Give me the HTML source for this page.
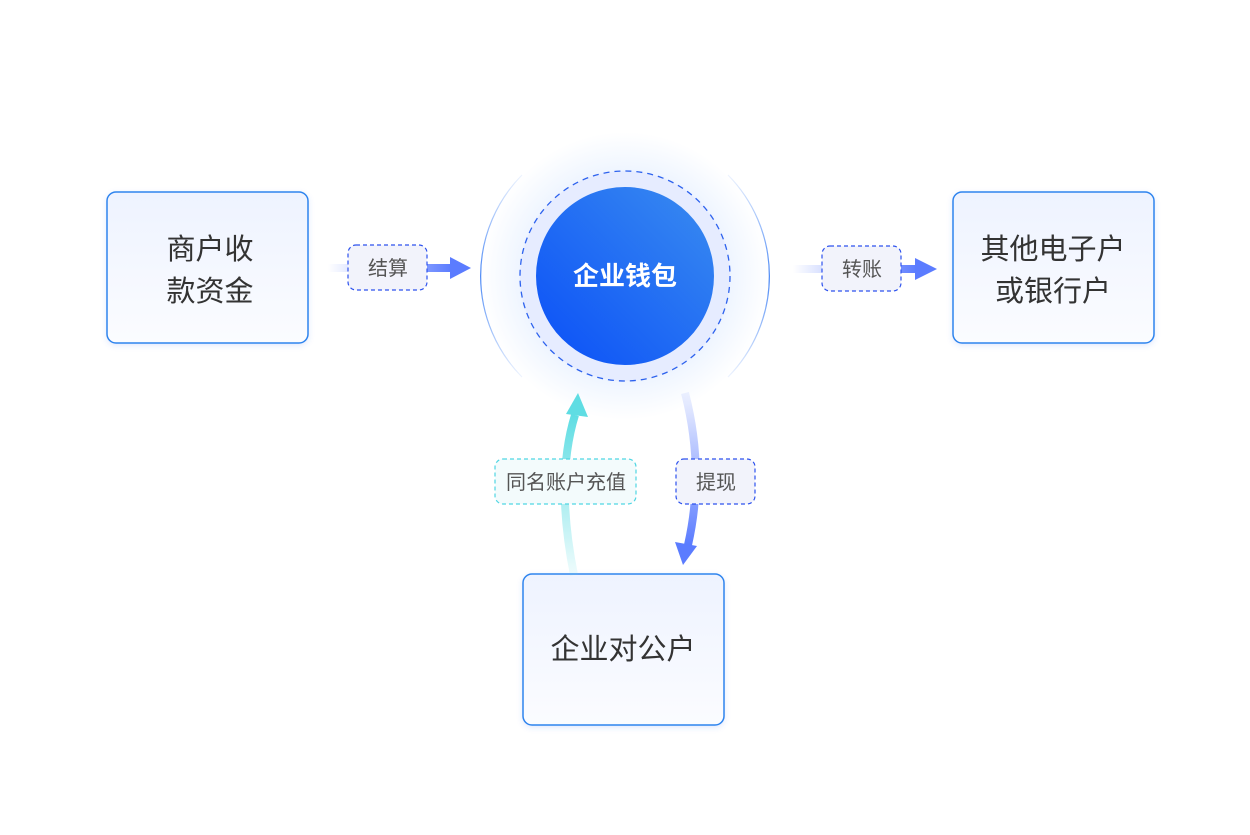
<!DOCTYPE html>
<html><head><meta charset="utf-8"><style>
html,body{margin:0;padding:0;background:#fff;}
body{width:1250px;height:830px;overflow:hidden;font-family:"Liberation Sans","Noto Sans CJK SC",sans-serif;}
</style></head><body>
<svg width="1250" height="830" viewBox="0 0 1250 830" xmlns="http://www.w3.org/2000/svg" font-family="Liberation Sans, Noto Sans CJK SC, sans-serif">
<defs>
<linearGradient id="box" x1="0" y1="0" x2="0" y2="1"><stop offset="0" stop-color="#eef3ff"/><stop offset="1" stop-color="#fbfcff"/></linearGradient>
<linearGradient id="core" x1="0" y1="1" x2="1" y2="0"><stop offset="0" stop-color="#0a4ff7"/><stop offset="1" stop-color="#3a8cf0"/></linearGradient>
<radialGradient id="halo" cx="0.5" cy="0.5" r="0.5"><stop offset="0.6" stop-color="#dfe6ff"/><stop offset="0.75" stop-color="#f0f6ff"/><stop offset="1" stop-color="#ffffff"/></radialGradient>
<linearGradient id="hl" x1="0" y1="0" x2="1" y2="0"><stop offset="0" stop-color="#5b7cff" stop-opacity="0"/><stop offset="1" stop-color="#5b7cff"/></linearGradient>
<linearGradient id="teal" x1="0" y1="1" x2="0" y2="0"><stop offset="0" stop-color="#5fdde3" stop-opacity="0.1"/><stop offset="1" stop-color="#5fdde3"/></linearGradient>
<linearGradient id="blu" x1="0" y1="0" x2="0" y2="1"><stop offset="0" stop-color="#5b7cff" stop-opacity="0.1"/><stop offset="1" stop-color="#5b7cff"/></linearGradient>
<linearGradient id="arcL" x1="0" y1="0" x2="0" y2="1"><stop offset="0" stop-color="#4a88f5" stop-opacity="0.1"/><stop offset="0.5" stop-color="#4a88f5"/><stop offset="1" stop-color="#4a88f5" stop-opacity="0.1"/></linearGradient>
<filter id="sh" x="-20%" y="-20%" width="140%" height="140%"><feDropShadow dx="0" dy="2" stdDeviation="3" flood-color="#3a6cf0" flood-opacity="0.15"/></filter>
</defs>
<circle cx="625" cy="276" r="144" fill="url(#halo)"/>
<path d="M 522 175 A 144 144 0 0 0 522 377" fill="none" stroke="url(#arcL)" stroke-width="1.2"/>
<path d="M 728 175 A 144 144 0 0 1 728 377" fill="none" stroke="url(#arcL)" stroke-width="1.2"/>
<circle cx="625" cy="276" r="105" fill="#e6ecff" stroke="#2d62ee" stroke-width="1.3" stroke-dasharray="6 5"/>
<circle cx="625" cy="276" r="89" fill="url(#core)"/>
<text x="625" y="285" text-anchor="middle" font-size="26" font-weight="bold" fill="#fff">企业钱包</text>
<g filter="url(#sh)">
<rect x="107" y="192" width="201" height="151" rx="9" fill="url(#box)" stroke="#2f84ee" stroke-width="1.5"/>
<rect x="953" y="192" width="201" height="151" rx="9" fill="url(#box)" stroke="#2f84ee" stroke-width="1.5"/>
<rect x="523" y="574" width="201" height="151" rx="9" fill="url(#box)" stroke="#2f84ee" stroke-width="1.5"/>
</g>
<g font-size="29" fill="#333" text-anchor="middle">
<text x="210" y="259">商户收</text><text x="210" y="301">款资金</text>
<text x="1053" y="259">其他电子户</text><text x="1053" y="301">或银行户</text>
<text x="623" y="659">企业对公户</text>
</g>
<rect x="328" y="264" width="124" height="8" fill="url(#hl)"/>
<polygon points="450,257 471,268 450,279" fill="#5b7cff"/>
<rect x="793" y="265" width="124" height="8" fill="url(#hl)"/>
<polygon points="915,258 937,269 915,280" fill="#5b7cff"/>
<path d="M 574 575 Q 555 480 575 415" fill="none" stroke="url(#teal)" stroke-width="8"/>
<polygon points="566,414 578,393 588,417" fill="#5fdde3"/>
<path d="M 685 393 Q 705 470 688 545" fill="none" stroke="url(#blu)" stroke-width="8"/>
<polygon points="675,542 683,565 697,546" fill="#5b7cff"/>
<g font-size="20" fill="#555" text-anchor="middle">
<rect x="348" y="245" width="79" height="45" rx="8" fill="#f2f3fb" stroke="#2d52ee" stroke-width="1.2" stroke-dasharray="4 3"/>
<text x="388" y="275">结算</text>
<rect x="822" y="246" width="79" height="45" rx="8" fill="#f2f3fb" stroke="#2d52ee" stroke-width="1.2" stroke-dasharray="4 3"/>
<text x="862" y="276">转账</text>
<rect x="495" y="459" width="141" height="45" rx="8" fill="#f3fbfc" stroke="#4fd6e3" stroke-width="1.2" stroke-dasharray="4 3"/>
<text x="566" y="489">同名账户充值</text>
<rect x="676" y="459" width="79" height="45" rx="8" fill="#f2f3fb" stroke="#2d52ee" stroke-width="1.2" stroke-dasharray="4 3"/>
<text x="716" y="489">提现</text>
</g>
</svg>
</body></html>
